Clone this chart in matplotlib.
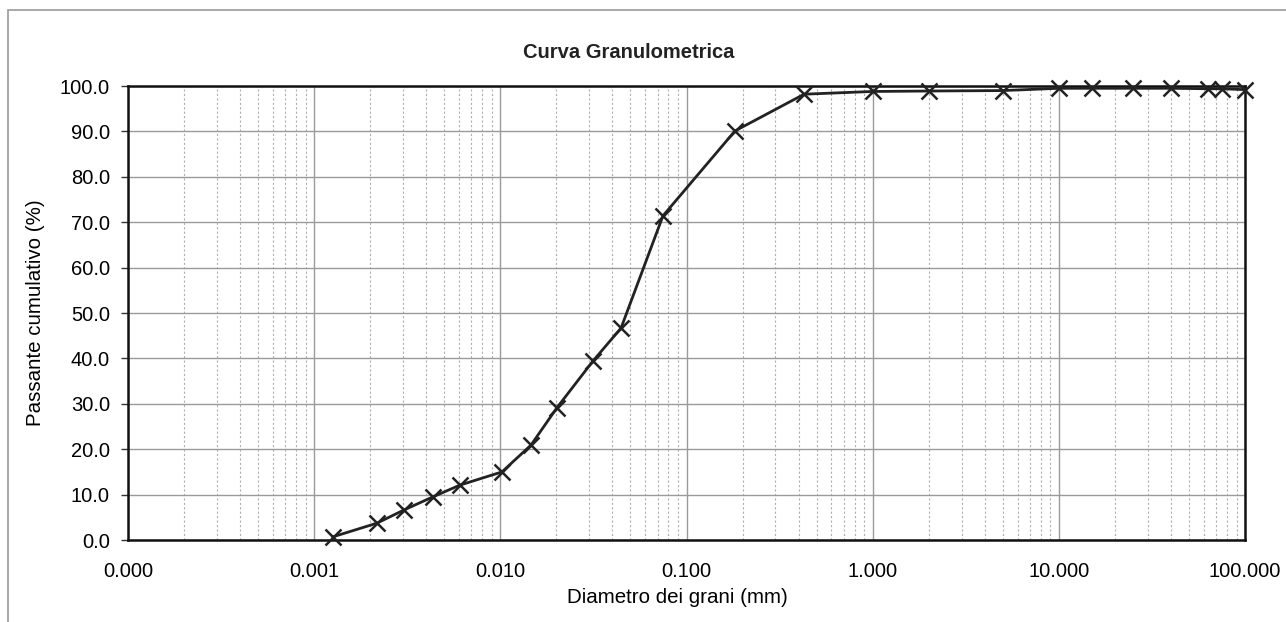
import numpy as np
import matplotlib.pyplot as plt
from matplotlib.ticker import FixedLocator, FuncFormatter, LogLocator, NullFormatter
from matplotlib.patches import Rectangle

plt.rcParams['font.family'] = ['Liberation Sans', 'DejaVu Sans']

# diametro (mm) e passante cumulativo (%)
diametro = [0.00126, 0.00217, 0.00303, 0.00434, 0.00607, 0.0102, 0.0146, 0.0201,
            0.0314, 0.0445, 0.0747, 0.182, 0.428, 1.0, 2.0, 5.0, 10.0, 15.0,
            25.0, 40.0, 63.0, 75.0, 100.0]
passante = [0.7, 3.7, 6.6, 9.5, 12.1, 15.0, 20.9, 29.1, 39.4, 46.7, 71.4, 90.1,
            98.2, 98.8, 98.9, 99.0, 99.5, 99.5, 99.5, 99.5, 99.4, 99.4, 99.2]

x_ticks = [0.0001, 0.001, 0.01, 0.1, 1, 10, 100]
y_ticks = np.arange(0, 101, 10)

fig = plt.figure(figsize=(12.86, 6.22), dpi=100)
ax = fig.add_axes([0.0995, 0.1318, 0.8687, 0.7299])

ax.set_xscale('log')
ax.set_xlim(0.0001, 100)
ax.set_ylim(0, 100)

ax.xaxis.set_major_locator(FixedLocator(x_ticks))
ax.xaxis.set_major_formatter(FuncFormatter(lambda v, p: '%.3f' % v))
ax.xaxis.set_minor_locator(LogLocator(base=10, subs=np.arange(2, 10)))
ax.xaxis.set_minor_formatter(NullFormatter())
ax.set_yticks(y_ticks)
ax.yaxis.set_major_formatter(FuncFormatter(lambda v, p: '%.1f' % v))

ax.grid(True, which='major', axis='both', color='#9a9a9a', lw=1.0, ls='-')
ax.grid(True, which='minor', axis='x', color='#b0b0b0', lw=0.8, ls=(0, (2, 2)))
ax.set_axisbelow(True)

ax.plot(diametro, passante, color='#222222', lw=2, marker='x', ms=11, mew=1.8,
        mec='#222222', clip_on=False, zorder=5)

for s in ax.spines.values():
    s.set_color('#111111')
    s.set_linewidth(1.8)

ax.tick_params(axis='y', which='major', labelsize=14.5, length=5, width=1,
               color='#333333', direction='out', pad=8)
ax.tick_params(axis='x', which='major', labelsize=14.5, length=0, pad=16)
ax.tick_params(axis='x', which='minor', length=0)

fig.text(629 / 1286, 1 - 52 / 622, 'Curva Granulometrica', fontsize=14.5,
         fontweight='bold', ha='center', va='center', color='#222222')
ax.set_xlabel('Diametro dei grani (mm)', fontsize=14.8)
ax.xaxis.set_label_coords(0.4915, -0.106)
ax.set_ylabel('Passante cumulativo (%)', fontsize=14.8)
ax.yaxis.set_label_coords(-0.074, 0.5)

# cornice esterna
fig.patches.append(Rectangle((8 / 1286, -0.02), 1.1, 1 - 10 / 622 + 0.02,
                             transform=fig.transFigure, fill=False,
                             edgecolor='#9a9a9a', lw=1.2))

fig.savefig('out.png', dpi=100)
